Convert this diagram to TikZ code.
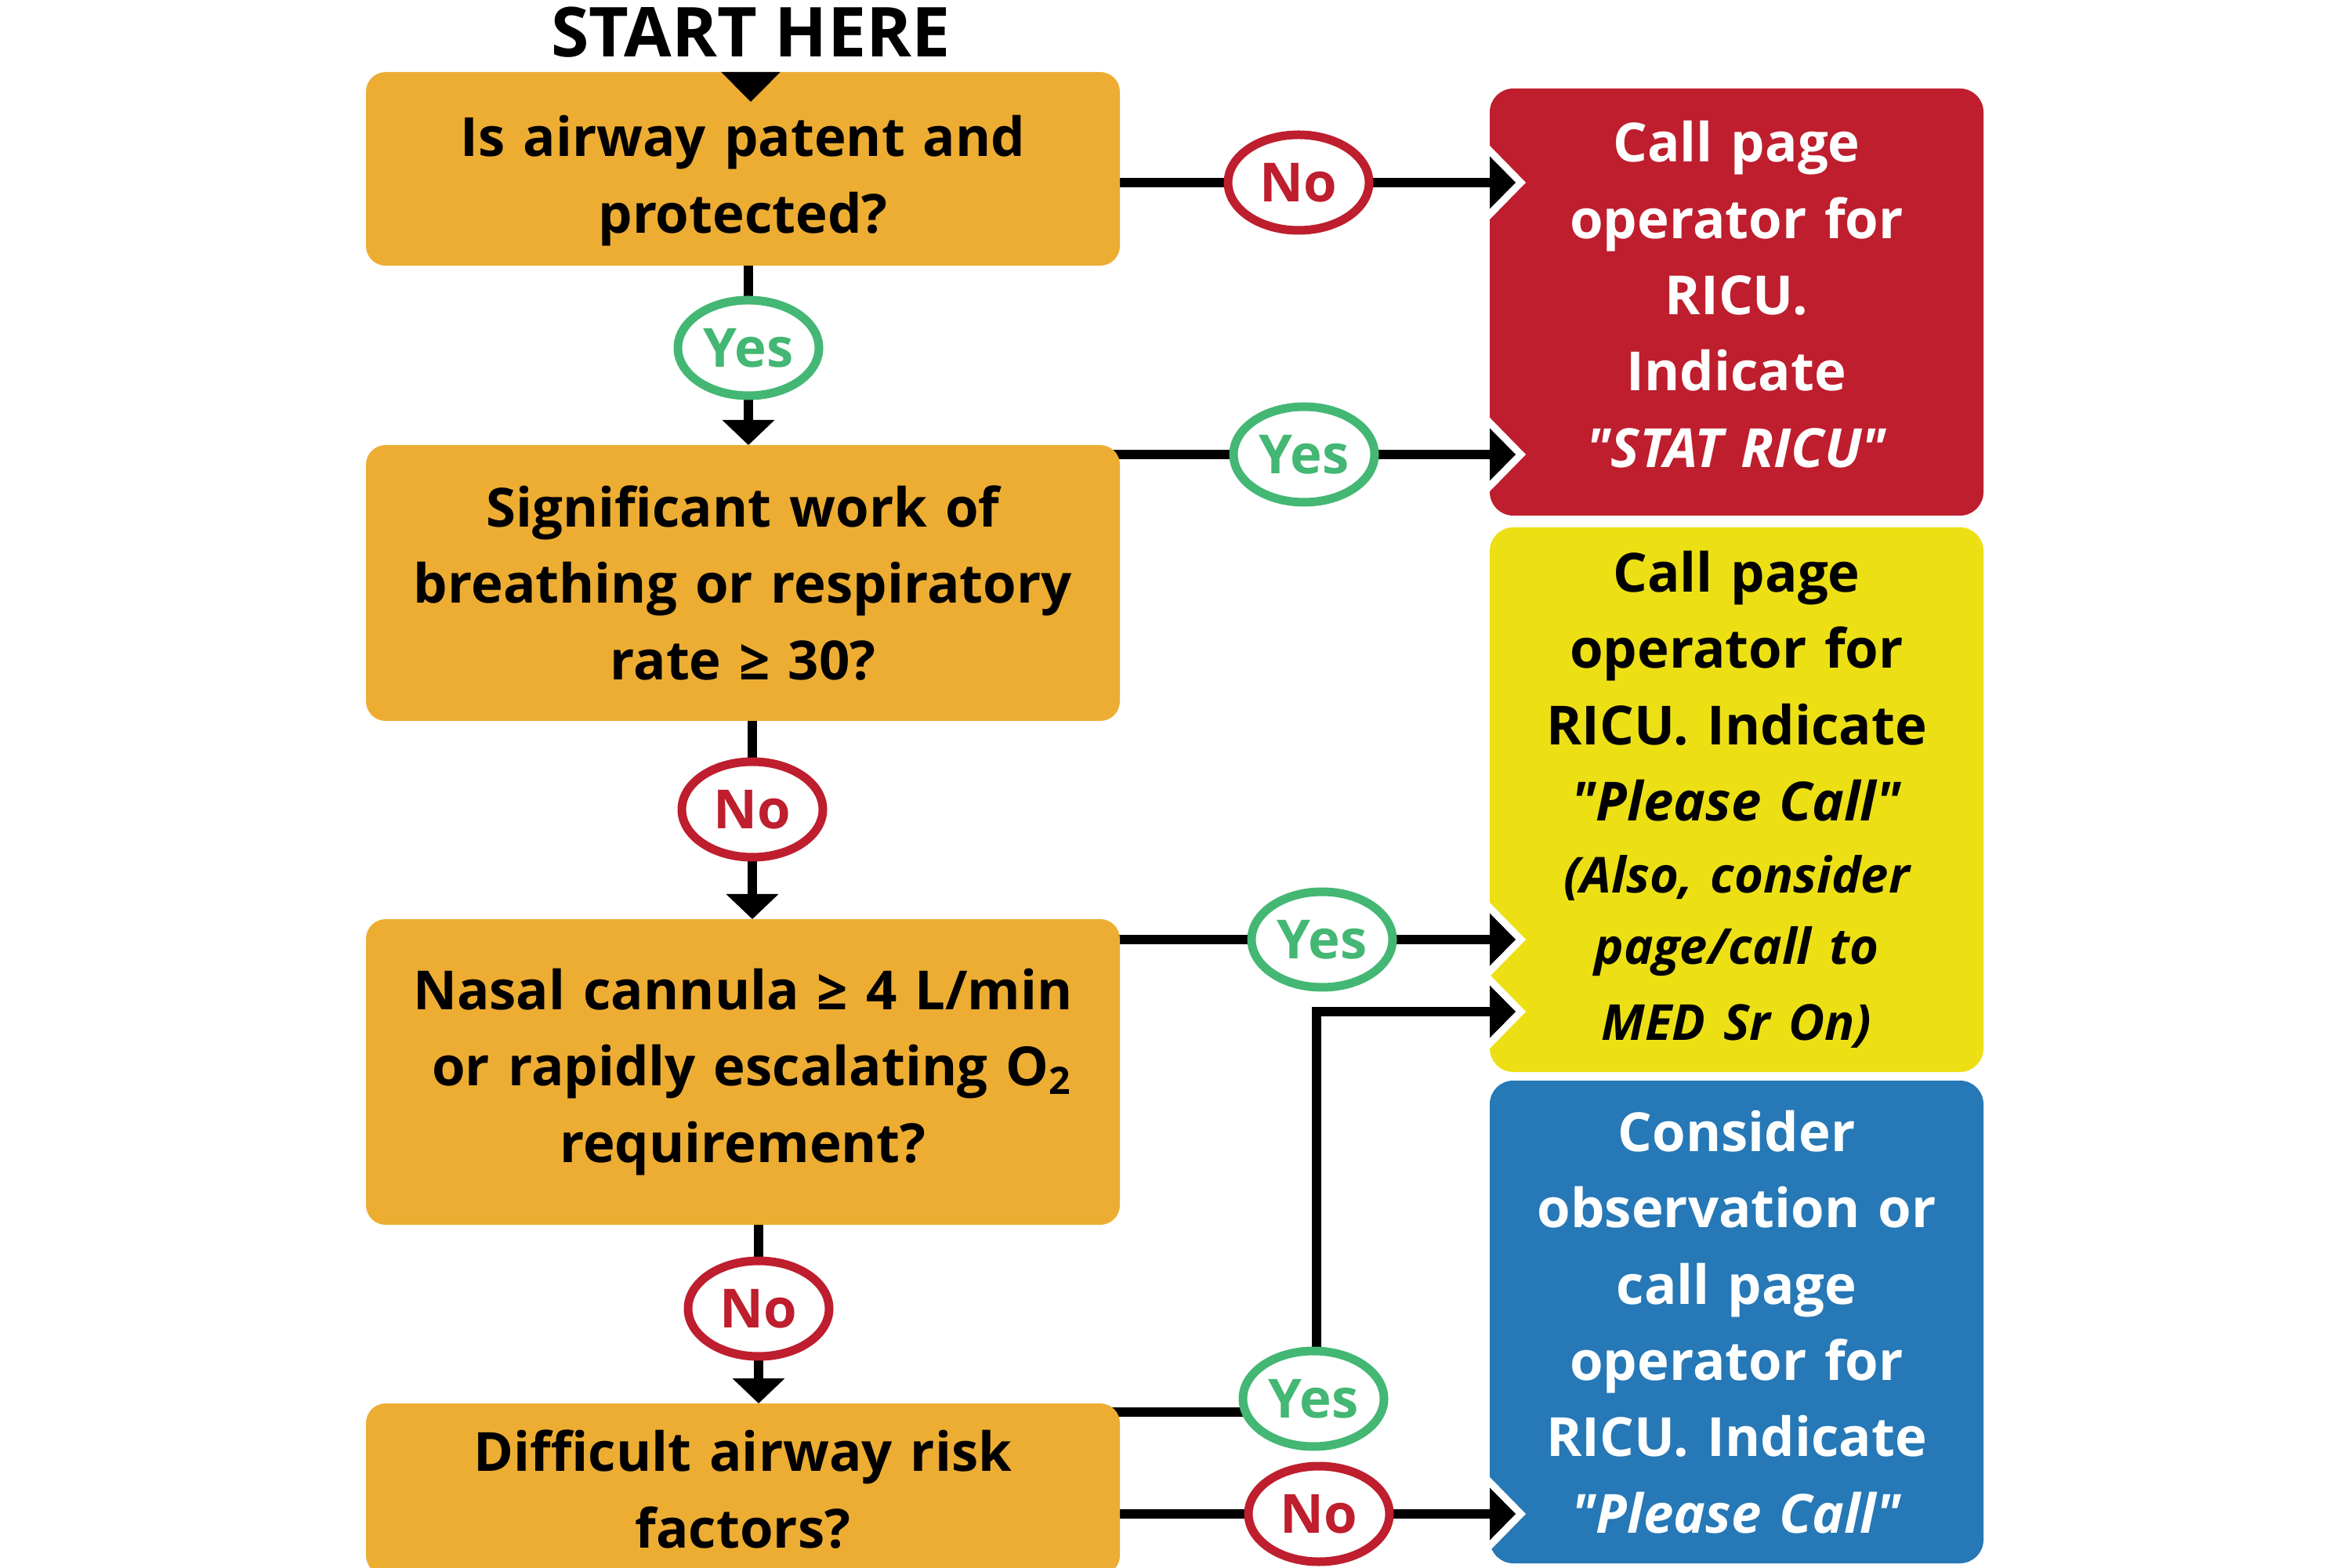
\documentclass[tikz,border=0pt]{standalone}
\usepackage{fontspec}
\setmainfont{Open Sans}[Ligatures=TeXOff]
\usetikzlibrary{arrows.meta,positioning,shapes.geometric,backgrounds}
\definecolor{fcOrange}{HTML}{EDAD33}
\definecolor{fcRed}   {HTML}{BE1E2D}
\definecolor{fcYellow}{HTML}{ECE015}
\definecolor{fcBlue}  {HTML}{2678B6}
\definecolor{fcGreen} {HTML}{43B773}
% struts to nudge text inside a box
\newcommand{\padtop}[1]{\rule{0pt}{#1}}
\newcommand{\padlow}[1]{\rule[-#1]{0pt}{#1}}

\begin{document}
\begin{tikzpicture}[font=\fontsize{19.6}{27.7}\selectfont\bfseries,
    qbox/.style={fill=fcOrange,rounded corners=0.25cm,minimum width=9.62cm,
                 text width=9.2cm,align=center,outer sep=0pt},
    actbox/.style={rounded corners=0.3cm,minimum width=6.3cm,text width=5.9cm,
                   align=center,inner ysep=0pt,outer sep=0pt},
    yesmark/.style={ellipse,draw=fcGreen,fill=white,line width=0.11cm,text=fcGreen,
                    minimum width=1.8cm,minimum height=1.22cm,inner sep=0pt},
    nomark/.style={yesmark,draw=fcRed,text=fcRed},
    flow/.style={line width=0.12cm},
    downflow/.style={flow,-{Triangle[width=0.65cm,length=0.32cm]}},
    notch/.pic={
      \fill[white] (0,0.47) -- (0.46,0) -- (0,-0.47) -- cycle;
      \fill[black] (0,0.335) -- (0.33,0) -- (0,-0.335) -- cycle;}]
    \useasboundingbox (0,0) rectangle (30,20);

    % questions
    \node[anchor=base,font=\fontsize{25}{30}\selectfont\bfseries] (start) at (9.58,19.27) {START HERE};
    \node[qbox,minimum height=2.47cm] (q1) at (9.48,17.845) {\padtop{23.4pt}Is airway patent and\\protected?};
    \node[qbox,minimum height=3.52cm] (q2) at (9.48,12.56) {Significant work of\\breathing or respiratory\\rate ≥ 30?};
    \node[qbox,minimum height=3.90cm] (q3) at (9.48,6.32) {Nasal cannula ≥ 4 L/min\\~or rapidly escalating O\textsubscript{2}\\requirement?};
    \node[qbox,minimum height=2.19cm] (q4) at (9.48,0.995) {Difficult airway risk\\factors?};

    % actions
    \node[actbox,fill=fcRed,text=white,minimum height=5.45cm] (red) at (22.16,16.145)
      {Call page\\operator for\\RICU.\\Indicate\\\textit{"STAT RICU"}\padlow{5.7pt}};
    \node[actbox,fill=fcYellow,minimum height=6.95cm] (yellow) at (22.16,9.795)
      {Call page\\operator for\\RICU. Indicate\\\textit{"Please Call"}\par
       \fontsize{18}{26}\selectfont\itshape (Also, consider\\page/call to\\MED Sr On)};
    \node[actbox,fill=fcBlue,text=white,minimum height=6.16cm] (blue) at (22.16,3.13)
      {Consider\\observation or\\call page\\operator for\\RICU. Indicate\\\textit{"Please Call"}};

    % answers
    \node[yesmark] (yes1) at (9.55,15.56) {Yes};
    \node[nomark]  (no1)  at (16.57,17.67) {No};
    \node[yesmark] (yes2) at (16.64,14.20) {Yes};
    \node[nomark]  (no2)  at (9.60,9.67) {No};
    \node[yesmark] (yes3) at (16.87,8.01) {Yes};
    \node[nomark]  (no3)  at (9.68,3.30) {No};
    \node[yesmark] (yes4) at (16.76,2.15) {Yes};
    \node[nomark]  (no4)  at (16.83,0.68) {No};
    \coordinate (split) at (16.80,1.98);
    \coordinate (bend)  at (16.80,7.09);

    \begin{scope}[on background layer]
      \draw[downflow] (yes1 |- q1.south) -- (yes1 |- q2.north);
      \draw[downflow] (no2 |- q2.south) -- (no2 |- q3.north);
      \draw[downflow] (no3 |- q3.south) -- (no3 |- q4.north);
      \draw[flow] (q1.center |- no1) -- (red.west |- no1);
      \draw[flow] (q2.center |- yes2) -- (red.west |- yes2);
      \draw[flow] (q3.center |- yes3) -- (yellow.west |- yes3);
      \draw[flow] (q4.center |- split) -- (split) -- (bend) -- (yellow.west |- bend);
      \draw[flow] (q4.center |- no4) -- (blue.west |- no4);
    \end{scope}

    \draw[-{Triangle[width=0.75cm,length=0.38cm]}] (start.south |- q1.north) -- ++(0,-0.38);
    \pic at (red.west |- no1) {notch};
    \pic at (red.west |- yes2) {notch};
    \pic at (yellow.west |- yes3) {notch};
    \pic at (yellow.west |- bend) {notch};
    \pic at (blue.west |- no4) {notch};
\end{tikzpicture}
\end{document}
